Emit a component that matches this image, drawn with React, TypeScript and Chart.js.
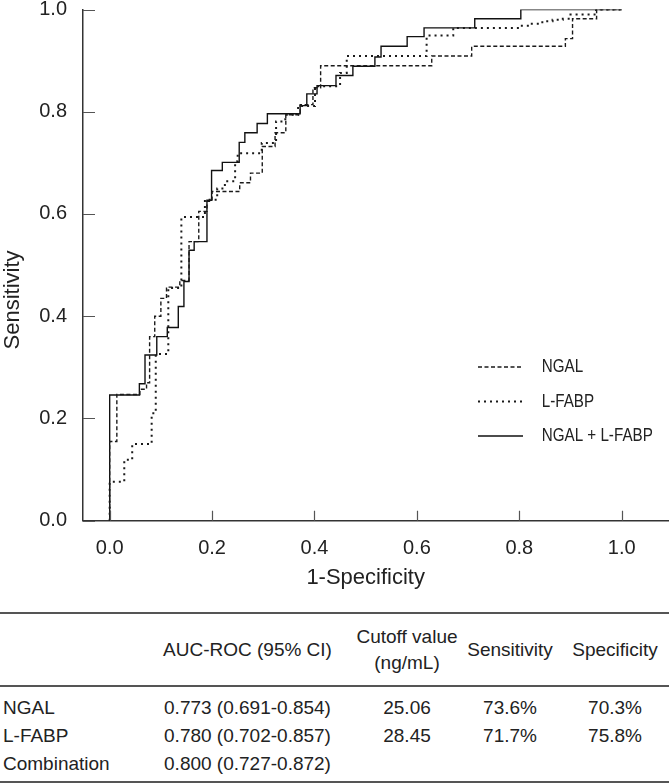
import React, { useEffect, useRef } from 'react';
import { Chart, registerables } from 'chart.js';

Chart.register(...registerables);

// ---------- data ----------
const NGAL_FPR = [0, 0, 0.014, 0.059, 0.072, 0.078, 0.088, 0.1, 0.111, 0.137, 0.155, 0.174, 0.19, 0.2, 0.254, 0.275, 0.298, 0.323, 0.344, 0.372, 0.397, 0.412, 0.629, 0.707, 0.89, 0.904, 0.951, 1];
const NGAL_TPR = [0, 0.155, 0.247, 0.257, 0.27, 0.36, 0.4, 0.435, 0.457, 0.47, 0.546, 0.605, 0.625, 0.644, 0.661, 0.68, 0.732, 0.759, 0.794, 0.814, 0.847, 0.89, 0.909, 0.928, 0.943, 0.982, 1, 1];

const LFABP_FPR = [0, 0, 0.0285, 0.044, 0.082, 0.09, 0.1145, 0.14, 0.186, 0.21, 0.225, 0.245, 0.25, 0.297, 0.325, 0.343, 0.368, 0.401, 0.45, 0.463, 0.619, 0.671, 0.8, 0.82, 0.845, 0.865, 0.885, 0.9, 0.95, 1];
const LFABP_TPR = [0, 0.076, 0.119, 0.15, 0.21, 0.326, 0.455, 0.594, 0.628, 0.65, 0.664, 0.703, 0.719, 0.739, 0.781, 0.794, 0.811, 0.85, 0.876, 0.909, 0.949, 0.964, 0.968, 0.972, 0.977, 0.98, 0.982, 0.99, 1, 1];

const COMB_FPR = [0, 0, 0.058, 0.069, 0.092, 0.1125, 0.134, 0.145, 0.155, 0.165, 0.19, 0.199, 0.22, 0.253, 0.264, 0.288, 0.308, 0.372, 0.385, 0.405, 0.442, 0.475, 0.518, 0.53, 0.581, 0.614, 0.713, 0.803, 1];
const COMB_TPR = [0, 0.246, 0.268, 0.324, 0.36, 0.378, 0.419, 0.468, 0.529, 0.546, 0.627, 0.685, 0.701, 0.74, 0.759, 0.777, 0.796, 0.812, 0.835, 0.851, 0.871, 0.889, 0.907, 0.928, 0.947, 0.964, 0.982, 1, 1];

const SERIES_NAMES = ['NGAL', 'L-FABP', 'NGAL + L-FABP'];
const X_TICKS = [0, 0.2, 0.4, 0.6, 0.8, 1.0];
const Y_TICKS = [0, 0.2, 0.4, 0.6, 0.8, 1.0];
const X_TITLE = '1-Specificity';
const Y_TITLE = 'Sensitivity';

const TABLE_HEAD = ['', 'AUC-ROC (95% CI)', 'Cutoff value\n(ng/mL)', 'Sensitivity', 'Specificity'];
const TABLE_ROWS = [
  ['NGAL', '0.773 (0.691-0.854)', '25.06', '73.6%', '70.3%'],
  ['L-FABP', '0.780 (0.702-0.857)', '28.45', '71.7%', '75.8%'],
  ['Combination', '0.800 (0.727-0.872)', '', '', ''],
];

// ---------- style ----------
const FONT = '"Liberation Sans", Arial, sans-serif';
const INK = '#222';
const CANVAS_W = 669;
const CANVAS_H = 600;
const AXIS_LEFT = 83;
const AXIS_BOTTOM = 520.7;
const PLOT_TOP = 9.5;

const toPts = (xs: number[], ys: number[]) => xs.map((x, i) => ({ x, y: ys[i] }));

const decorPlugin = {
  id: 'decor',
  afterDraw(chart: any) {
    const ctx = chart.ctx;
    const xs = chart.scales.x;
    const ys = chart.scales.y;
    ctx.save();
    // inward tick marks
    ctx.strokeStyle = '#555';
    ctx.lineWidth = 1.2;
    ctx.beginPath();
    X_TICKS.forEach((v) => {
      const px = Math.round(xs.getPixelForValue(v)) + 0.5;
      ctx.moveTo(px, ys.bottom);
      ctx.lineTo(px, ys.bottom - 10);
    });
    Y_TICKS.forEach((v) => {
      const py = Math.round(ys.getPixelForValue(v)) + 0.5;
      ctx.moveTo(xs.left, py);
      ctx.lineTo(xs.left + 12, py);
    });
    ctx.stroke();

    // axis titles
    ctx.fillStyle = INK;
    ctx.font = `22px ${FONT}`;
    ctx.textAlign = 'center';
    ctx.textBaseline = 'middle';
    const xMid = (xs.getPixelForValue(0) + xs.getPixelForValue(1)) / 2;
    ctx.fillText(X_TITLE, xMid, 578);
    ctx.save();
    ctx.translate(13, 300);
    ctx.rotate(-Math.PI / 2);
    ctx.fillText(Y_TITLE, 0, 0);
    ctx.restore();

    // legend
    const rows = [367, 401.5, 436];
    chart.data.datasets.forEach((ds: any, i: number) => {
      const y = rows[i];
      ctx.save();
      ctx.strokeStyle = ds.borderColor;
      ctx.lineWidth = ds.borderWidth;
      ctx.setLineDash(ds.borderDash || []);
      ctx.lineCap = ds.borderCapStyle || 'butt';
      ctx.beginPath();
      ctx.moveTo(478, y);
      ctx.lineTo(523, y);
      ctx.stroke();
      ctx.restore();
      ctx.save();
      ctx.fillStyle = INK;
      ctx.font = `19px ${FONT}`;
      ctx.textAlign = 'left';
      ctx.textBaseline = 'middle';
      ctx.translate(541.7, y);
      ctx.scale(0.8, 1);
      ctx.fillText(ds.label, 0, 0);
      ctx.restore();
    });
    ctx.restore();
  },
};

function RocChart() {
  const ref = useRef<HTMLCanvasElement | null>(null);
  useEffect(() => {
    if (!ref.current) return;
    const chart = new Chart(ref.current, {
      type: 'line',
      data: {
        datasets: [
          {
            label: SERIES_NAMES[0],
            data: toPts(NGAL_FPR, NGAL_TPR),
            borderColor: '#1a1a1a',
            borderWidth: 1.4,
            borderDash: [4, 2.5],
            stepped: 'before',
            pointRadius: 0,
            fill: false,
          },
          {
            label: SERIES_NAMES[1],
            data: toPts(LFABP_FPR, LFABP_TPR),
            borderColor: '#1a1a1a',
            borderWidth: 2,
            borderDash: [2, 4],
            stepped: 'before',
            pointRadius: 0,
            fill: false,
          },
          {
            label: SERIES_NAMES[2],
            data: toPts(COMB_FPR, COMB_TPR),
            borderColor: '#111',
            borderWidth: 1.4,
            borderDash: [],
            stepped: 'before',
            pointRadius: 0,
            fill: false,
          },
        ],
      } as any,
      options: {
        responsive: false,
        animation: false,
        layout: { padding: { top: PLOT_TOP, left: 0, right: 0, bottom: 0 } },
        plugins: { legend: { display: false }, tooltip: { enabled: false } },
        scales: {
          x: {
            type: 'linear',
            min: -0.0521,
            max: 1.0924,
            afterBuildTicks: (s: any) => {
              s.ticks = X_TICKS.map((v) => ({ value: v }));
            },
            afterFit: (s: any) => {
              s.height = CANVAS_H - AXIS_BOTTOM;
              s.paddingLeft = 0;
              s.paddingRight = 0;
            },
            grid: { display: false, drawTicks: false },
            border: { display: true, color: '#333', width: 1.5 },
            ticks: {
              autoSkip: false,
              maxRotation: 0,
              color: INK,
              padding: 16,
              font: { family: FONT, size: 20 },
              callback: (v: any) => Number(v).toFixed(1),
            },
          },
          y: {
            type: 'linear',
            min: 0,
            max: 1,
            afterBuildTicks: (s: any) => {
              s.ticks = Y_TICKS.map((v) => ({ value: v }));
            },
            afterFit: (s: any) => {
              s.width = AXIS_LEFT;
              s.paddingTop = 0;
              s.paddingBottom = 0;
            },
            grid: { display: false, drawTicks: false },
            border: { display: true, color: '#333', width: 1.5 },
            ticks: {
              autoSkip: false,
              color: INK,
              padding: 16,
              font: { family: FONT, size: 20 },
              callback: (v: any) => Number(v).toFixed(1),
            },
          },
        },
      } as any,
      plugins: [decorPlugin],
    });
    return () => chart.destroy();
  }, []);
  return <canvas ref={ref} width={CANVAS_W} height={CANVAS_H} style={{ position: 'absolute', left: 0, top: 0, width: CANVAS_W, height: CANVAS_H }} />;
}

export default function App() {
  const cell: React.CSSProperties = { padding: 0, whiteSpace: 'pre-line', textAlign: 'center' };
  const colW = [140, 215, 104, 102, 108];
  return (
    <div style={{ position: 'absolute', left: 0, top: 0, width: 669, height: 784, background: '#fff', fontFamily: FONT, color: INK, overflow: 'hidden' }}>
      <RocChart />
      <table
        style={{
          position: 'absolute',
          left: 0,
          top: 612,
          width: 669,
          borderCollapse: 'collapse',
          tableLayout: 'fixed',
          fontSize: 19,
          fontFamily: FONT,
          color: INK,
        }}
      >
        <colgroup>
          {colW.map((w, i) => (
            <col key={i} style={{ width: w }} />
          ))}
        </colgroup>
        <thead>
          <tr style={{ borderTop: '2px solid #555', borderBottom: '2px solid #555', height: 73 }}>
            {TABLE_HEAD.map((h, i) => (
              <th key={i} style={{ ...cell, fontWeight: 'normal', lineHeight: '26px', verticalAlign: 'middle' }}>
                {h}
              </th>
            ))}
          </tr>
        </thead>
        <tbody style={{ borderBottom: '2px solid #555' }}>
          {TABLE_ROWS.map((r, ri) => (
            <tr key={ri}>
              {r.map((c, ci) => (
                <td
                  key={ci}
                  style={{
                    ...cell,
                    textAlign: ci === 0 ? 'left' : 'center',
                    paddingLeft: ci === 0 ? 3 : 0,
                    lineHeight: '28px',
                    paddingTop: ri === 0 ? 7 : 0,
                    paddingBottom: ri === TABLE_ROWS.length - 1 ? 3 : 0,
                  }}
                >
                  {c}
                </td>
              ))}
            </tr>
          ))}
        </tbody>
      </table>
    </div>
  );
}
